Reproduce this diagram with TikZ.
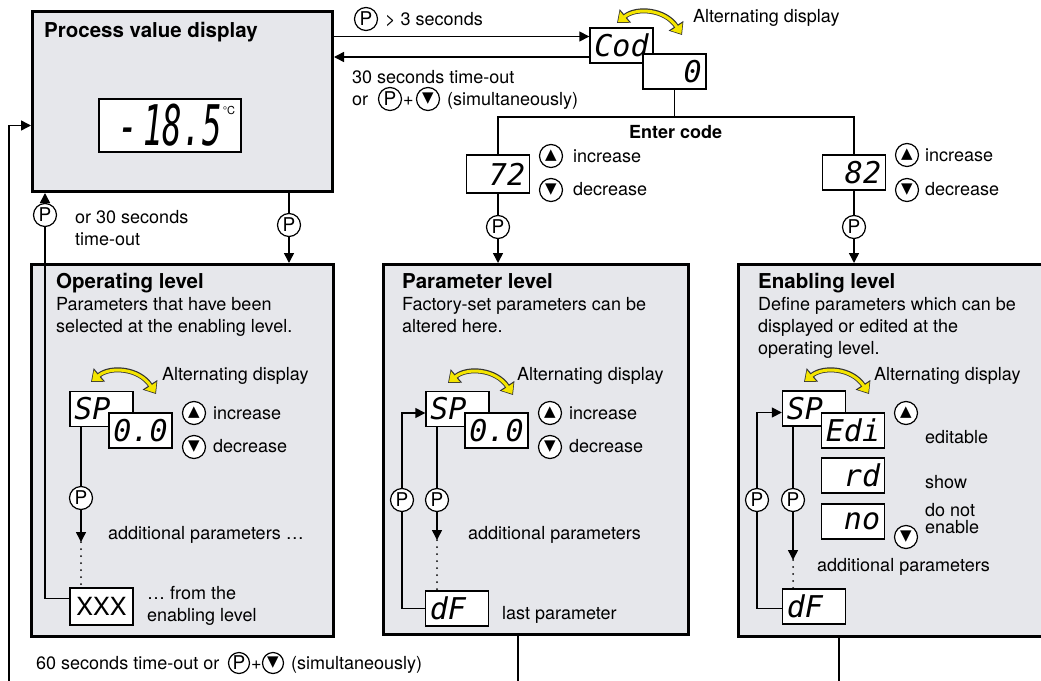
\documentclass[tikz,border=0pt]{standalone}
\usepackage{fontspec}
\usepackage{graphicx}
\setmainfont{TeX Gyre Heros}
\newfontfamily\segfont{DejaVu Sans Mono}
\newfontfamily\symfont{DejaVu Sans}
\usetikzlibrary{arrows.meta,positioning}

\definecolor{panelgray}{HTML}{E6E7EB}
\definecolor{swapyellow}{HTML}{F4E500}

\tikzset{
	levelbox/.style={draw, line width=3pt, fill=panelgray, anchor=north west, inner sep=0pt},
	disp/.style={draw, line width=1.4pt, fill=white, minimum width=63pt, minimum height=35pt, inner sep=0pt, font=\segfont\itshape\fontsize{30}{30}\selectfont},
	pkey/.style={circle, draw, line width=1.2pt, fill=white, inner sep=0pt, minimum size=23pt, font=\fontsize{19}{19}\selectfont},
	arrkey/.style={circle, draw, line width=1.2pt, fill=white, inner sep=0pt, minimum size=23pt, font=\symfont\fontsize{15}{15}\selectfont},
	flow/.style={line width=1.5pt, -{Triangle[length=10pt,width=10pt]}},
	link/.style={line width=1.5pt},
	dots/.style={line width=2pt, line cap=round, dash pattern=on 0pt off 7pt},
	txt/.style={anchor=base west, inner sep=0pt, font=\fontsize{18}{22}\selectfont},
	para/.style={anchor=north west, inner sep=0pt, align=left, font=\fontsize{18}{22}\selectfont},
	ttl/.style={anchor=base west, inner sep=0pt, font=\bfseries\fontsize{20.5}{24}\selectfont},
	swap/.pic={
		\draw[line width=5pt, black!80, {Triangle[length=11pt,width=17pt]}-{Triangle[length=11pt,width=17pt]}] (0,0) .. controls (19,-16) and (48,-14) .. (65,12);
		\draw[line width=3pt, swapyellow, shorten <=1.3pt, shorten >=1.3pt, {Triangle[length=8.5pt,width=13.5pt]}-{Triangle[length=8.5pt,width=13.5pt]}] (0,0) .. controls (19,-16) and (48,-14) .. (65,12);
	}
}

\begin{document}
\begin{tikzpicture}[x=1pt,y=-1pt]
	\useasboundingbox (0,0) rectangle (1041,680);
	\clip (0,0) rectangle (1041,680);

	% level boxes
	\node[levelbox, minimum width=300pt, minimum height=180pt] (pvd) at (31,10) {};
	\node[levelbox, minimum width=302pt, minimum height=372pt] (oplev) at (30,263) {};
	\node[levelbox, minimum width=305pt, minimum height=370pt] (parlev) at (382,263) {};
	\node[levelbox, minimum width=320pt, minimum height=372pt] (enlev) at (737,263) {};

	% process value display
	\node[ttl] (pvdtitle) at (44,37) {Process value display};
	\node[disp, minimum width=142pt, minimum height=53pt] (pvnum) at (170,125.5) {\scalebox{0.58}[1]{\fontsize{56}{56}\selectfont -\,18.5}\hspace{16pt}};
	\node[inner sep=0pt, font=\fontsize{11}{11}\selectfont] (pvunit) at (229,110) {°C};

	% code entry
	\node[disp] (cod) at (621.5,45.5) {Cod};
	\node[disp] (zero) at (674.5,71.5) {\hphantom{00}0};
	\pic at (617,23) {swap};
	\node[txt] (codalt) at (693,23) {Alternating display};

	\node[pkey] (pk3s) at (366,19) {P};
	\node[txt] (t3s) at (385,25) {> 3 seconds};
	\node[txt] (tout30) at (352,83) {30 seconds time-out};
	\node[txt] (tor) at (352,105) {or};
	\node[pkey] (pkret) at (390,99) {P};
	\node[txt] (tplus) at (403,105) {+};
	\node[arrkey] (dnret) at (428,99) {▼};
	\node[txt] (tsim) at (447,105) {(simultaneously)};

	\coordinate (cin) at ([yshift=9pt]cod.west);
	\coordinate (cout) at ([yshift=-11.5pt]cod.west);
	\draw[flow] (pvd.east |- cin) -- (cin);
	\draw[flow] (cout) -- (pvd.east |- cout);

	% code choice
	\coordinate (split) at (674.5,117);
	\node[disp, minimum height=38pt] (c72) at (498,174) {\hphantom{0}72};
	\node[disp] (c82) at (854,172.5) {\hphantom{0}82};
	\draw[link] (zero.south) -- (split);
	\draw[link] (c72.north) |- (split) -| (c82.north);
	\node[ttl, font=\bfseries\fontsize{18}{22}\selectfont] (entercode) at (629,138) {Enter code};

	\node[arrkey] (up72) at (551,156) {▲};
	\node[txt] (inc72) at (573,162) {increase};
	\node[arrkey] (dn72) at (551,190) {▼};
	\node[txt] (dec72) at (573,195) {decrease};
	\node[arrkey] (up82) at (907,155) {▲};
	\node[txt] (inc82) at (925,161) {increase};
	\node[arrkey] (dn82) at (907,190) {▼};
	\node[txt] (dec82) at (925,195) {decrease};

	\node[pkey] (pk72) at (498,227) {P};
	\node[pkey] (pk82) at (854,227) {P};
	\draw[link] (c72) -- (pk72);
	\draw[flow] (pk72) -- (pk72 |- parlev.north);
	\draw[link] (c82) -- (pk82);
	\draw[flow] (pk82) -- (pk82 |- enlev.north);

	% to and from the operating level
	\node[pkey] (pkop) at (289,225) {P};
	\draw[link] (pvd.south -| pkop) -- (pkop);
	\draw[flow] (pkop) -- (pkop |- oplev.north);
	\node[pkey] (pkback) at (45,215) {P};
	\node[txt] (tor30) at (75,223) {or 30 seconds};
	\node[txt] (ttimeout) at (75,245) {time-out};

	% outer loop
	\coordinate (loopfoot) at (9,700);
	\draw[flow] (loopfoot) |- ([yshift=-24pt]pvd.west);
	\node[txt] (t60) at (36,669) {60 seconds time-out or};
	\node[pkey, minimum size=21pt] (pk60) at (239,663) {P};
	\node[txt] (tplus60) at (251,669) {+};
	\node[arrkey, minimum size=21pt] (dn60) at (273,663) {▼};
	\node[txt] (tsim60) at (291,669) {(simultaneously)};
	\draw[link] ([xshift=136pt]parlev.south west) -- ++(0,60);
	\draw[link] ([xshift=102pt]enlev.south west) -- ++(0,60);

	% operating level
	\node[ttl] (optitle) at (56,288) {Operating level};
	\node[para] (optext) at (56,297) {Parameters that have been\\selected at the enabling level.};
	\node[disp] (opsp) at (101.5,409) {SP\hphantom{0}};
	\node[disp] (opval) at (140.5,430.5) {0.0};
	\pic at (91,382) {swap};
	\node[txt] (opalt) at (162,380) {Alternating display};
	\node[arrkey] (opup) at (194,413) {▲};
	\node[txt] (opinc) at (213,419) {increase};
	\node[arrkey] (opdn) at (194,447) {▼};
	\node[txt] (opdec) at (213,452) {decrease};
	\node[pkey] (oppk) at (81,498) {P};
	\coordinate (opmore) at (81,542);
	\node[txt] (opadd) at (108,539) {additional parameters …};
	\node[disp, minimum height=37pt, font=\fontsize{25}{25}\selectfont] (opxxx) at (101.5,606.5) {XXX};
	\node[txt] (opfrom) at (147,599) {… from the};
	\node[txt] (openab) at (147,621) {enabling level};
	\draw[link] (opsp.south -| oppk) -- (oppk);
	\draw[flow] (oppk) -- (opmore);
	\draw[dots] (opmore) -- (opxxx.north -| opmore);
	\draw[link] ([yshift=8pt]opxxx.west) -| (pkback);
	\draw[flow] (pkback) -- (pkback |- pvd.south);

	% parameter level
	\node[ttl] (partitle) at (402,288) {Parameter level};
	\node[para] (partext) at (402,297) {Factory-set parameters can be\\altered here.};
	\node[disp] (parsp) at (457.5,409) {SP\hphantom{0}};
	\node[disp] (parval) at (496.5,430.5) {0.0};
	\pic at (448,383) {swap};
	\node[txt] (paralt) at (517,380) {Alternating display};
	\node[arrkey] (parup) at (550,413) {▲};
	\node[txt] (parinc) at (569,419) {increase};
	\node[arrkey] (pardn) at (550,447) {▼};
	\node[txt] (pardec) at (569,452) {decrease};
	\node[pkey] (parpk) at (437,500) {P};
	\coordinate (parmore) at (437,540);
	\node[txt] (paradd) at (468,539) {additional parameters};
	\node[disp] (pardf) at (457,608.5) {dF\hphantom{0}};
	\node[txt] (parlast) at (502,619) {last parameter};
	\node[pkey] (parback) at (402,500) {P};
	\draw[link] (parsp.south -| parpk) -- (parpk);
	\draw[flow] (parpk) -- (parmore);
	\draw[dots] (parmore) -- (pardf.north -| parmore);
	\draw[link] (pardf.west) -| (parback);
	\draw[flow] (parback) |- ([yshift=-4pt]parsp.west);

	% enabling level
	\node[ttl] (entitle) at (758,288) {Enabling level};
	\node[para] (entext) at (758,297) {Define parameters which can be\\displayed or edited at the\\operating level.};
	\node[disp] (ensp) at (814,408.5) {SP\hphantom{0}};
	\node[disp] (enedi) at (853,430.5) {Edi};
	\node[disp] (enrd) at (853,475.5) {\hphantom{0}rd};
	\node[disp] (enno) at (853,521.5) {\hphantom{0}no};
	\pic at (804,382) {swap};
	\node[txt] (enalt) at (874,380) {Alternating display};
	\node[arrkey] (enup) at (906,413) {▲};
	\node[txt] (enedit) at (925,443) {editable};
	\node[txt] (enshow) at (925,488) {show};
	\node[para, font=\fontsize{18}{17}\selectfont] (ennot) at (925,503) {do not\\enable};
	\node[arrkey] (endn) at (906,537) {▼};
	\node[pkey] (enpk) at (793,500) {P};
	\coordinate (enmore) at (793,560);
	\node[txt] (enadd) at (817,571) {additional parameters};
	\node[disp] (endf) at (814,606.5) {dF\hphantom{0}};
	\node[pkey] (enback) at (757,500) {P};
	\draw[link] (ensp.south -| enpk) -- (enpk);
	\draw[flow] (enpk) -- (enmore);
	\draw[dots] (enmore) -- (endf.north -| enmore);
	\draw[link] ([yshift=-2pt]endf.west) -| (enback);
	\draw[flow] (enback) |- ([yshift=-4pt]ensp.west);
\end{tikzpicture}
\end{document}
